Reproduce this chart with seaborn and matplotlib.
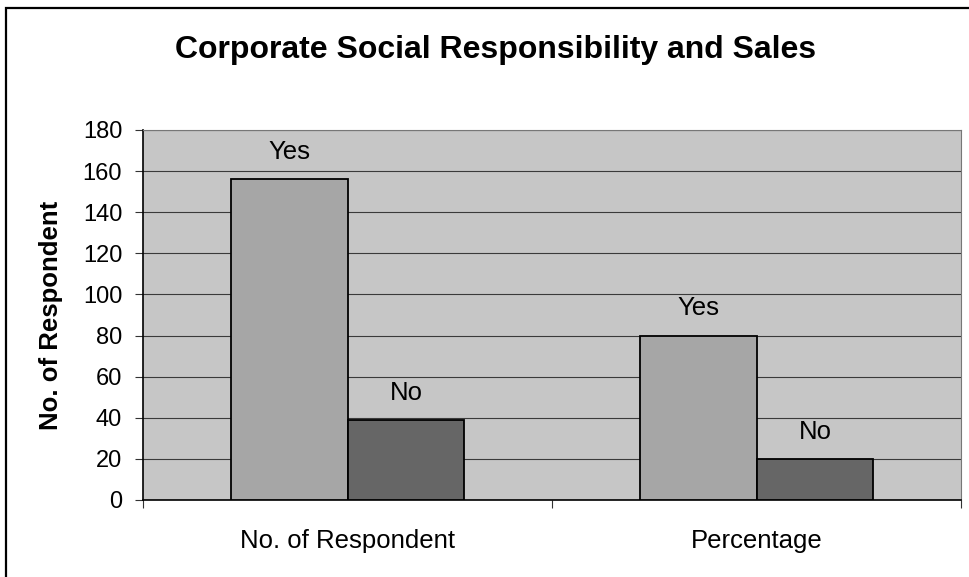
import matplotlib
matplotlib.use("Agg")
import matplotlib.pyplot as plt
import matplotlib.patches as mpatches
import seaborn as sns
import pandas as pd

# Survey results
categories = ["No. of Respondent", "Percentage"]
answers = ["Yes", "No"]
yes_values = [156, 80]
no_values = [39, 20]
y_ticks = [0, 20, 40, 60, 80, 100, 120, 140, 160, 180]

df = pd.DataFrame({
    "category": categories * 2,
    "answer": ["Yes"] * len(categories) + ["No"] * len(categories),
    "value": yes_values + no_values,
})

sns.set_theme(style="white")
plt.rcParams["font.family"] = ["Liberation Sans", "DejaVu Sans"]
plt.rcParams["text.color"] = "black"
plt.rcParams["axes.labelcolor"] = "black"
plt.rcParams["xtick.color"] = "black"
plt.rcParams["ytick.color"] = "black"

W, H = 969, 577
fig = plt.figure(figsize=(W / 100, H / 100), dpi=100)
fig.patch.set_facecolor("white")

# outer chart frame (runs off the bottom/right of the canvas)
frame = mpatches.Rectangle((6 / W, -0.05), 2.0, (H - 8) / H + 0.05,
                           transform=fig.transFigure, fill=False,
                           edgecolor="black", linewidth=1.6)
fig.add_artist(frame)

ax = fig.add_axes([143 / W, (H - 500) / H, (961 - 143) / W, (500 - 130) / H])
ax.set_facecolor("#c6c6c6")

sns.barplot(data=df, x="category", y="value", hue="answer",
            hue_order=answers, order=categories,
            palette={"Yes": "#a6a6a6", "No": "#666666"},
            width=0.572, edgecolor="black", linewidth=1.3,
            saturation=1, legend=False, ax=ax, zorder=3)

for container, name in zip(ax.containers, answers):
    ax.bar_label(container, labels=[name] * len(container),
                 padding=11, fontsize=18.5, color="black")

ax.set_ylim(0, 180)
ax.set_xlim(-0.5, len(categories) - 0.5)
ax.set_yticks(y_ticks)
ax.yaxis.grid(True, color="#3a3a3a", linewidth=0.8, zorder=0)
ax.set_axisbelow(True)

ax.tick_params(axis="y", which="major", left=True, length=6, width=0.8,
               color="#333333", labelsize=17, pad=9, labelcolor="black")
ax.tick_params(axis="x", which="major", bottom=False, labelsize=18.5, pad=15,
               labelcolor="black")
ax.set_xticks([i - 0.5 for i in range(len(categories) + 1)], minor=True)
ax.tick_params(axis="x", which="minor", bottom=True, length=6, width=0.8,
               color="#333333")

ax.set_xlabel("")
ax.set_ylabel("No. of Respondent", fontsize=18.5, fontweight="bold",
              color="black")
ax.yaxis.set_label_coords(-0.098, 0.5)

for side in ["left", "bottom"]:
    ax.spines[side].set_color("black")
    ax.spines[side].set_linewidth(1.2)
for side in ["top", "right"]:
    ax.spines[side].set_color("#777777")
    ax.spines[side].set_linewidth(0.8)

fig.text(0.5 * (175 + 817) / W, 1 - 50 / H,
         "Corporate Social Responsibility and Sales",
         ha="center", va="center", fontsize=23, fontweight="bold",
         color="black")

fig.savefig("out.png", dpi=100)
